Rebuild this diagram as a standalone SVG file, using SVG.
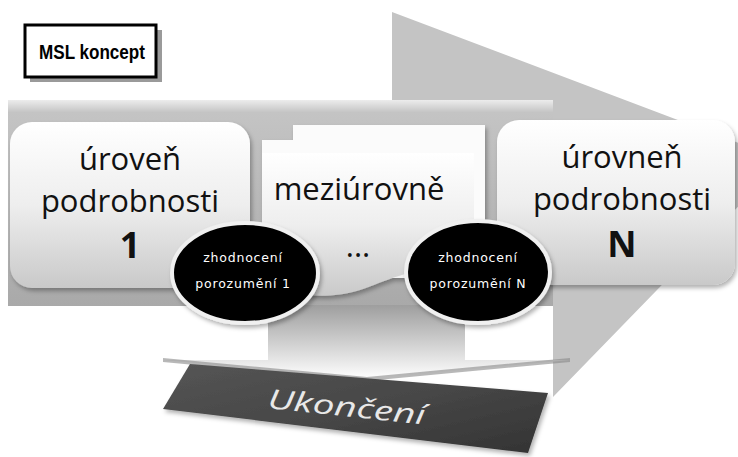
<svg xmlns="http://www.w3.org/2000/svg" width="738" height="457" viewBox="0 0 738 457">
  <defs>
    <linearGradient id="gBody" x1="0" y1="0" x2="0" y2="1">
      <stop offset="0" stop-color="#ececec"/>
      <stop offset="0.06" stop-color="#c4c4c4"/>
      <stop offset="1" stop-color="#a9a9a9"/>
    </linearGradient>
    <linearGradient id="gBox" x1="0" y1="0" x2="0" y2="1">
      <stop offset="0" stop-color="#ffffff"/>
      <stop offset="0.5" stop-color="#eeeeee"/>
      <stop offset="1" stop-color="#c9c9c9"/>
    </linearGradient>
    <linearGradient id="gDown" x1="0" y1="0" x2="0" y2="1">
      <stop offset="0" stop-color="#9e9e9e"/>
      <stop offset="1" stop-color="#ffffff"/>
    </linearGradient>
    <linearGradient id="gEnd" x1="0" y1="0" x2="1" y2="1">
      <stop offset="0" stop-color="#555555"/>
      <stop offset="0.5" stop-color="#474747"/>
      <stop offset="1" stop-color="#333333"/>
    </linearGradient>
    <filter id="sh" x="-10%" y="-10%" width="125%" height="130%">
      <feDropShadow dx="2" dy="3" stdDeviation="2" flood-color="#000" flood-opacity="0.3"/>
    </filter>
  </defs>
  <style>
    .big { font-family: "Open Sans", "Noto Sans", "Liberation Sans", sans-serif; font-size: 31px; fill: #111; text-anchor: middle; }
    .num { font-family: "Open Sans", "Noto Sans", "Liberation Sans", sans-serif; font-size: 36px; font-weight: bold; fill: #111; text-anchor: middle; }
    .small { font-family: "DejaVu Sans", "Liberation Sans", sans-serif; font-size: 12.5px; letter-spacing: 0.8px; fill: #ffffff; text-anchor: middle; }
    .ell { fill: #000; stroke: #f0f0f0; stroke-width: 4; }
  </style>
  <rect width="738" height="457" fill="#ffffff"/>

  <!-- big arrow -->
  <g id="big-arrow">
    <polygon points="392,12 760,151 760,184 553,397 553,100 392,100" fill="#c4c4c4"/>
    <rect x="8" y="100" width="545" height="206" fill="url(#gBody)"/>
  </g>

  <!-- down arrow -->
  <g id="down-arrow">
    <polygon points="268,305 465,305 465,360 570,360 367,379 163,360 268,360" fill="url(#gDown)"/>
    <polygon points="163,358 367,377 570,358 570,362 367,381 163,362" fill="#888" opacity="0.6"/>
  </g>

  <!-- Ukončení -->
  <g id="ukonceni">
    <polygon points="190,364 548,393 528,453 163,409" fill="url(#gEnd)" filter="url(#sh)"/>
    <text x="267" y="408" transform="rotate(6 267 408)" font-family="Open Sans, Noto Sans, Liberation Sans, sans-serif" font-size="27" font-style="italic" fill="#e8e8e8" textLength="158" lengthAdjust="spacingAndGlyphs">Ukončení</text>
  </g>

  <!-- MSL koncept -->
  <g id="msl">
    <rect x="30" y="30" width="132" height="52" fill="#9a9a9a"/>
    <rect x="25" y="25" width="131" height="52" fill="#ffffff" stroke="#000" stroke-width="3"/>
    <text x="39" y="59" font-family="Liberation Sans, sans-serif" font-size="21" font-weight="bold" fill="#000" textLength="106" lengthAdjust="spacingAndGlyphs">MSL koncept</text>
  </g>

  <!-- left box -->
  <g id="level1">
    <rect x="10" y="122" width="240" height="166" rx="22" fill="url(#gBox)" filter="url(#sh)"/>
    <text class="big" x="130" y="170">úroveň</text>
    <text class="big" x="130" y="212">podrobnosti</text>
    <text class="num" x="130" y="258">1</text>
  </g>

  <!-- middle -->
  <g id="mid">
    <g filter="url(#sh)">
      <path d="M293,125 H485 V272 H293 Z" fill="#f6f6f6"/>
      <path d="M277,140 H480 V278 H277 Z" fill="#f2f2f2"/>
      <path d="M262,153 H474 V270 C420,262 390,280 360,290 C320,302 290,292 262,288 Z" fill="url(#gBox)"/>
      <path d="M293,125 H485 V268 C470,262 460,264 474,268 V153 H262 V140 H277 V140 H293 Z" fill="#fbfbfb"/>
    </g>
    <text class="big" x="359" y="200">meziúrovně</text>
    <text class="big" x="358" y="257" font-size="24">...</text>
  </g>

  <!-- right box -->
  <g id="levelN">
    <rect x="497" y="120" width="238" height="165" rx="22" fill="url(#gBox)" filter="url(#sh)"/>
    <text class="big" x="622" y="168">úrovneň</text>
    <text class="big" x="622" y="210">podrobnosti</text>
    <text class="num" x="622" y="257">N</text>
  </g>

  <!-- evaluations -->
  <g id="eval1">
    <ellipse class="ell" cx="245" cy="273" rx="73" ry="50" filter="url(#sh)"/>
    <text class="small" x="243" y="262">zhodnocení</text>
    <text class="small" x="243" y="288">porozumění 1</text>
  </g>
  <g id="evalN">
    <ellipse class="ell" cx="478" cy="272" rx="72" ry="51" filter="url(#sh)"/>
    <text class="small" x="478" y="262">zhodnocení</text>
    <text class="small" x="478" y="288">porozumění N</text>
  </g>
</svg>
